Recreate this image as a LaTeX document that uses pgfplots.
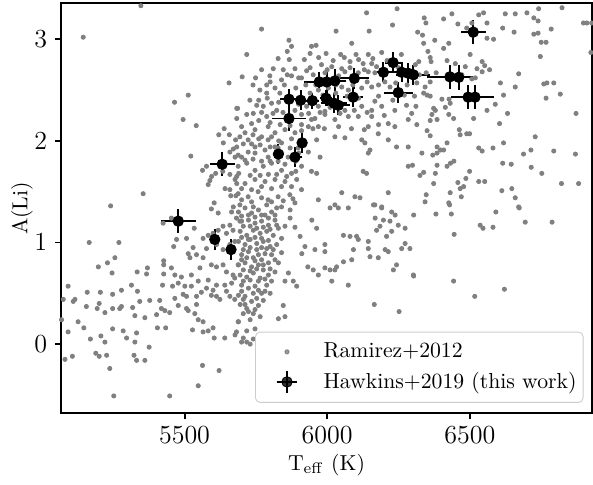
\documentclass[border=0pt]{standalone}
\usepackage{pgfplots}
\usepackage{pgfplotstable}
\pgfplotsset{compat=1.18}
\definecolor{ramgray}{HTML}{808080}
\definecolor{legframe}{HTML}{CCCCCC}

% Ramirez+2012: Teff  A(Li)
\pgfplotstableread{
T A
5347 3.33
5145 3.02
5656 2.57
5513 2.45
5465 2.38
5683 2.32
5683 2.22
5495 2.21
5541 2.15
5639 2.12
5620 2.06
5657 2.06
5636 1.98
5679 2.01
5671 1.92
5659 1.89
5522 1.85
5688 1.86
5577 1.75
5563 1.71
5609 1.68
5595 1.65
5589 1.61
5583 1.57
5634 1.70
5659 1.67
5683 1.65
5683 1.58
5642 1.53
5659 1.52
5662 1.46
5680 1.46
5355 1.48
5241 1.36
5604 1.39
5671 1.35
6138 3.26
6245 3.30
5770 3.10
6031 3.08
6147 3.08
6229 3.14
5866 2.99
5875 2.93
6086 2.96
5945 2.93
5961 2.94
5940 2.86
5718 2.85
5828 2.81
5867 2.80
5996 2.86
6047 2.85
6101 2.85
6144 2.85
6191 2.87
6021 2.79
6080 2.78
6126 2.76
6156 2.76
6173 2.73
5811 2.71
5846 2.70
5887 2.71
5928 2.69
5980 2.75
6016 2.73
6051 2.71
5702 2.63
5749 2.62
5799 2.64
5840 2.60
5875 2.64
5910 2.62
5951 2.65
5992 2.67
6062 2.68
6109 2.67
6144 2.68
6167 2.67
5788 2.55
5817 2.52
5834 2.47
5788 2.47
5764 2.50
5969 2.50
6004 2.52
6051 2.53
6074 2.50
6121 2.52
6156 2.53
6202 2.58
6220 2.53
5686 2.32
5729 2.40
5753 2.35
5776 2.34
5741 2.27
5969 2.34
5992 2.29
6062 2.30
6121 2.34
6156 2.30
6167 2.39
6191 2.34
6237 2.30
6278 2.35
6296 2.27
6284 2.21
5910 2.26
5957 2.22
5992 2.26
6027 2.21
6074 2.24
6109 2.24
6156 2.24
6214 2.17
6237 2.14
5700 2.14
5735 2.17
5694 2.04
5723 2.01
5683 1.94
5747 1.94
5770 2.04
5934 2.14
5969 2.14
6027 2.04
6062 2.03
6121 2.01
6144 2.14
6179 2.07
6214 2.01
6243 1.94
6284 1.94
6132 1.98
6150 1.91
5677 1.84
5700 1.84
5723 1.89
5747 1.88
5782 1.91
5793 1.84
5817 1.94
5840 1.98
5863 1.84
5898 1.93
5910 1.75
5688 1.75
5718 1.78
5747 1.71
5776 1.75
5805 1.78
5840 1.71
5875 1.68
5945 1.70
5963 1.68
6126 1.70
6138 1.68
5677 1.62
5712 1.58
5747 1.62
5782 1.60
5817 1.62
5852 1.60
5893 1.62
5910 1.52
6051 1.49
6097 1.45
6115 1.44
6214 1.49
5688 1.48
5723 1.45
5758 1.50
5793 1.42
5828 1.45
5869 1.47
5887 1.39
5694 1.37
5741 1.35
5788 1.37
5840 1.35
5969 1.42
6027 1.37
6167 1.37
6191 1.35
6284 1.75
6144 1.88
5805 2.37
5823 2.30
5887 2.30
5928 2.34
5945 2.21
5852 2.11
5887 2.08
5817 2.08
5793 2.01
5840 1.88
5934 1.89
5963 2.01
5975 1.84
5718 2.26
5788 2.24
5747 2.11
5793 2.14
6340 3.21
6346 3.16
6408 3.20
6437 3.25
6317 3.07
6334 3.04
6377 2.99
6338 2.96
6426 2.96
6408 2.91
6353 2.88
6361 2.82
6321 2.78
6309 2.75
6458 3.15
6489 3.11
6507 3.16
6531 3.24
6548 3.26
6560 3.16
6507 3.04
6560 3.01
6583 3.00
6624 3.25
6659 3.25
6700 3.26
6724 3.21
6739 3.18
6741 3.30
6823 3.31
6615 3.11
6655 3.07
6724 3.05
6739 3.06
6785 3.10
6750 2.97
6767 2.97
6898 3.16
6910 3.16
6927 3.16
6924 2.87
6747 2.83
6420 2.79
6449 2.76
6501 2.85
6543 2.78
6552 2.74
6569 2.70
6543 2.68
6525 2.71
6484 2.73
6472 2.65
6507 2.61
6519 2.62
6461 2.62
6364 2.78
6382 2.67
6347 2.67
6323 2.65
6361 2.58
6343 2.53
6314 2.57
6671 2.66
6659 2.53
6607 2.57
6618 2.45
6589 2.36
6560 2.30
6759 2.56
6770 2.57
6794 2.57
6817 2.46
6767 2.42
6338 2.47
6306 2.44
6350 2.45
6361 2.44
6402 2.41
6427 2.41
6431 2.37
6414 2.33
6311 2.34
6373 2.32
6379 2.30
6367 2.26
6361 2.20
6385 2.21
6314 2.16
6426 2.26
6443 2.22
6513 2.22
6604 2.17
6632 2.27
6872 2.27
6350 2.10
6361 2.05
6463 2.11
6466 2.06
6489 2.07
6499 2.07
6729 2.04
6618 1.98
6581 1.93
6531 1.93
6543 1.90
6385 1.94
6397 1.91
6408 1.91
6420 1.98
6332 1.88
6370 1.86
6385 1.88
6688 1.87
6714 1.91
6794 1.90
6870 1.87
6615 1.78
6645 1.77
6715 1.74
6752 1.68
6499 1.70
6444 1.80
6432 1.78
6420 1.75
6385 1.76
6379 1.68
6338 1.69
6325 1.66
6299 1.76
6531 1.60
6552 1.60
6486 1.63
6458 1.59
6373 1.58
6821 1.58
6881 1.58
6612 1.51
6647 1.53
6659 1.44
6671 1.35
6466 1.53
6478 1.55
6470 1.45
6431 1.49
6426 1.39
6347 1.47
6343 1.40
5425 1.19
5454 1.24
5534 1.14
5565 1.04
5583 1.07
5600 1.09
5618 1.12
5635 1.16
5659 1.17
5647 1.09
5670 1.12
5682 1.24
5694 1.21
5594 1.33
5618 1.29
5665 1.30
5166 1.00
5270 1.00
5472 1.03
5507 1.04
5462 0.96
5530 0.95
5513 0.89
5519 0.85
5542 0.88
5565 0.85
5577 0.94
5612 0.98
5635 0.93
5659 0.98
5676 1.01
5256 0.85
5230 0.80
5198 0.76
5246 0.70
5334 0.71
5370 0.75
5367 0.69
5427 0.82
5427 0.78
5454 0.75
5427 0.69
5466 0.68
5489 0.66
5524 0.68
5554 0.75
5594 0.78
5612 0.76
5635 0.78
5647 0.71
5670 0.68
5688 0.78
5092 0.57
5314 0.58
5423 0.58
5458 0.57
5478 0.60
5501 0.57
5524 0.57
5548 0.62
5583 0.63
5612 0.58
5641 0.58
5665 0.60
5676 0.65
5577 0.55
5600 0.53
5647 0.52
5159 0.51
5205 0.51
5248 0.49
5279 0.53
5335 0.52
5378 0.43
5413 0.43
5466 0.45
5495 0.49
5507 0.47
5542 0.47
5559 0.51
5594 0.48
5612 0.47
5624 0.44
5659 0.47
5676 0.44
5075 0.44
5110 0.42
5116 0.44
5156 0.37
5201 0.40
5194 0.35
5221 0.31
5248 0.35
5273 0.35
5279 0.37
5318 0.36
5343 0.42
5326 0.28
5361 0.26
5402 0.29
5419 0.35
5431 0.33
5448 0.31
5478 0.38
5507 0.35
5513 0.33
5542 0.39
5536 0.30
5548 0.24
5565 0.22
5600 0.16
5583 0.13
5069 0.24
5127 0.22
5147 0.16
5092 0.12
5170 0.05
5207 0.08
5221 0.02
5248 0.15
5285 0.13
5297 0.06
5332 0.11
5326 0.02
5376 -0.03
5323 -0.11
5332 -0.16
5361 -0.16
5405 0.16
5434 0.16
5528 0.14
5565 0.12
5604 0.06
5641 0.06
5688 0.22
5682 0.12
5081 -0.15
5107 -0.12
5189 -0.09
5201 -0.12
5227 -0.11
5238 -0.24
5563 -0.21
5621 -0.26
5548 -0.41
5252 -0.51
5448 -0.51
5689 1.30
5712 1.34
5735 1.29
5759 1.32
5782 1.27
5805 1.30
5823 1.34
5700 1.21
5724 1.22
5747 1.19
5770 1.21
5794 1.17
5817 1.22
5695 1.11
5718 1.07
5741 1.12
5765 1.09
5788 1.11
5811 1.07
5829 1.14
5689 1.01
5712 0.98
5730 1.03
5753 0.99
5776 1.01
5800 0.96
5823 0.98
5700 0.88
5724 0.91
5741 0.85
5759 0.88
5782 0.89
5805 0.88
5829 0.80
5689 0.78
5712 0.80
5735 0.76
5759 0.78
5776 0.73
5794 0.68
5695 0.68
5718 0.66
5741 0.70
5765 0.65
5788 0.58
5700 0.58
5724 0.55
5747 0.57
5770 0.50
5689 0.48
5712 0.47
5735 0.42
5695 0.39
5724 0.32
5747 0.34
5730 0.24
5689 0.22
5712 0.39
5677 0.09
5700 0.02
5718 0.02
5730 0.00
5870 1.32
5870 1.24
5887 1.15
5852 1.16
5905 1.06
5946 1.22
5963 1.14
5922 0.96
5911 0.89
5957 0.93
5992 0.98
5992 0.91
6010 1.34
6039 1.34
6074 1.34
6057 1.07
6080 1.06
6103 1.06
6109 1.03
6092 0.93
6086 0.83
6057 0.81
6033 0.76
6027 0.73
6010 0.73
5992 0.75
5969 0.68
5951 0.73
5932 0.76
6016 0.62
6074 0.58
5864 0.70
5852 0.62
5881 0.62
5893 0.57
5846 0.38
5852 0.27
5829 0.25
6162 1.37
6191 1.34
6226 1.30
6238 1.27
6168 1.24
6197 1.22
6220 1.21
6249 1.17
6273 1.14
6185 1.16
6173 1.12
6226 1.11
6208 1.06
6144 1.01
6144 0.94
6150 0.86
6203 0.93
6214 0.91
6261 0.94
6273 0.99
6290 0.94
6243 0.78
6232 0.73
6302 0.68
6165 0.39
6252 0.32
6179 0.85
6303 1.27
6381 1.28
6435 1.28
6429 1.37
6445 1.08
6536 1.17
6546 1.14
6581 1.15
6591 1.30
6673 1.34
6694 1.20
6788 1.20
6303 0.67
6443 0.62
6517 0.47
6621 0.54
5700 1.26
5724 1.27
5747 1.25
5770 1.27
5794 1.24
5817 1.27
5706 1.16
5730 1.16
5753 1.14
5776 1.15
5800 1.13
5823 1.17
5700 1.05
5724 1.03
5747 1.05
5770 1.04
5794 1.02
5840 1.04
5706 0.93
5730 0.95
5753 0.93
5770 0.95
5788 0.94
5811 0.93
5840 0.90
5700 0.83
5718 0.85
5747 0.82
5770 0.83
5794 0.80
5817 0.83
5706 0.73
5730 0.72
5753 0.74
5776 0.78
5800 0.74
5817 0.71
5706 0.62
5730 0.63
5759 0.62
5782 0.64
5805 0.62
5700 0.52
5741 0.50
5759 0.53
5782 0.52
5800 0.50
5706 0.44
5753 0.45
5776 0.43
5718 0.35
5759 0.38
5741 0.30
5706 0.30
5765 0.27
5718 0.13
5747 0.15
5706 0.06
5741 0.05
5700 1.42
5735 1.40
5770 1.44
5805 1.40
5846 1.41
5880 1.43
5700 1.53
5735 1.52
5770 1.55
5805 1.53
5840 1.55
5875 1.55
5690 1.68
5730 1.66
5765 1.66
5794 1.67
5823 1.67
5858 1.65
5890 1.70
5712 1.81
5740 1.82
5770 1.80
5800 1.80
5828 1.80
5852 1.77
5890 1.80
5706 1.97
5735 1.97
5765 1.96
5800 1.94
5828 1.93
5870 1.93
5900 1.88
5712 2.08
5740 2.06
5760 2.02
5805 2.04
5830 2.00
5875 2.02
5910 2.10
5760 2.20
5800 2.18
5835 2.16
5870 2.15
5910 2.16
5950 2.12
5990 2.12
6040 2.14
6085 2.12
6130 2.11
6180 2.16
5770 2.28
5810 2.27
5845 2.28
5900 2.36
5935 2.27
5975 2.28
6010 2.33
6045 2.27
6095 2.30
6140 2.28
6200 2.25
5760 2.40
5790 2.42
5830 2.38
5940 2.47
5985 2.45
6030 2.47
6070 2.44
6110 2.42
6180 2.44
6230 2.40
6270 2.45
5740 2.55
5800 2.58
5850 2.55
5890 2.52
5925 2.55
5960 2.55
6030 2.55
6090 2.55
6140 2.58
6180 2.55
6240 2.57
6280 2.55
5770 2.70
5860 2.65
5900 2.62
5940 2.72
6000 2.70
6040 2.64
6080 2.72
6130 2.70
6200 2.66
6250 2.72
5860 2.88
5920 2.80
5970 2.82
6060 2.82
6110 2.80
6160 2.81
6210 2.79
6260 2.85
}\ramirez

% Hawkins+2019: Teff  A(Li)  errors
\pgfplotstableread{
T A eT eA
5478 1.21 62 0.12
5632 1.77 44 0.12
5606 1.03 15 0.10
5663 0.93 12 0.10
5829 1.87 20 0.10
5887 1.84 25 0.10
5912 1.98 15 0.10
5866 2.22 60 0.12
5866 2.41 30 0.10
5907 2.40 20 0.10
5948 2.395 25 0.08
5996 2.42 20 0.08
6024 2.37 45 0.10
6039 2.35 40 0.10
6091 2.43 35 0.10
5972 2.58 55 0.10
5998 2.58 30 0.12
6027 2.59 40 0.12
6095 2.615 50 0.10
6197 2.675 30 0.10
6231 2.77 30 0.10
6261 2.675 30 0.10
6284 2.665 30 0.10
6302 2.65 60 0.10
6430 2.63 80 0.12
6461 2.625 50 0.12
6249 2.475 50 0.10
6494 2.43 60 0.12
6518 2.43 65 0.12
6512 3.07 43 0.12
}\hawkins

\begin{document}
\begin{tikzpicture}
\begin{axis}[
    scale only axis,
    width=244.7pt,
    height=188.9pt,
    xmin=5067, xmax=6928,
    ymin=-0.682, ymax=3.352,
    xtick={5500,6000,6500},
    ytick={0,1,2,3},
    /pgf/number format/1000 sep={},
    tick label style={font=\fontsize{12}{14}\selectfont},
    tick align=outside,
    tick pos=left,
    major tick length=2.8pt,
    every tick/.style={black, line width=0.9pt},
    axis line style={line width=0.9pt},
    xlabel={T$_{\mathrm{eff}}$ (K)},
    ylabel={A(Li)},
    xlabel style={at={(axis description cs:0.5,-0.1249)}, anchor=center},
    ylabel style={at={(axis description cs:-0.0734,0.5)}, anchor=center},
    legend cell align=left,
    legend style={
        at={(0.984,0.026)}, anchor=south east,
        font=\fontsize{10}{12}\selectfont,
        draw=legframe, rounded corners=2pt,
        fill=white, fill opacity=0.8, draw opacity=1, text opacity=1,
        inner xsep=1pt, inner ysep=2.9pt, row sep=1.2pt,
        /tikz/every odd column/.append style={column sep=6pt}
    },
    clip=true
]
\addplot[only marks, mark=*, mark size=0.95pt, color=ramgray,
    mark options={draw=none, fill=ramgray},
    legend image code/.code={
        \path (0pt,0pt) (22pt,0pt);
        \fill[ramgray] (13.3pt,0pt) circle (0.95pt);
    }]
    table[x=T, y=A] {\ramirez};
\addlegendentry{Ramirez+2012}

\addplot[only marks, mark=*, mark size=2.4pt, color=black,
    legend image code/.code={
        \path (0pt,0pt) (22pt,0pt);
        \draw[black, line width=0.9pt] (8.5pt,0pt) -- (18.1pt,0pt)
            (13.3pt,-4.9pt) -- (13.3pt,4.9pt);
        \fill[black] (13.3pt,0pt) circle (2.4pt);
    },
    error bars/.cd,
        x dir=both, x explicit,
        y dir=both, y explicit,
        error bar style={line width=0.9pt, black},
        error mark=none]
    table[x=T, y=A, x error=eT, y error=eA] {\hawkins};
\addlegendentry{Hawkins+2019 (this work)}

\coordinate (ll) at (rel axis cs:0,0);
\coordinate (ur) at (rel axis cs:1,1);
\end{axis}
\pgfresetboundingbox
\path ([shift={(-28.1pt,-32.6pt)}]ll) rectangle ([shift={(0.46pt,1.6pt)}]ur);
\end{tikzpicture}
\end{document}
